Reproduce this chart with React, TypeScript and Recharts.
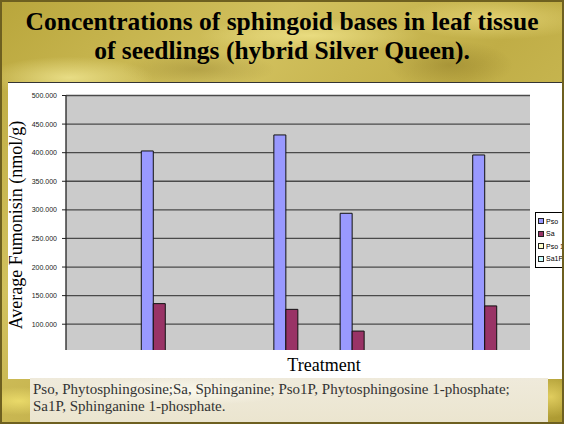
import React from 'react';
import { BarChart, Bar, XAxis, YAxis, CartesianGrid, Legend } from 'recharts';

// treatment slots along the x axis (empty slots carry no visible bars)
const treatments = ['T1', 'T2', 'T3', 'T4', 'T5', 'T6', 'T7'];
const pso = [null, 403, null, 431, 294, null, 396];
const sa = [null, 136, null, 126, 88, null, 132];
const pso1p = [null, null, null, null, null, null, null];
const sa1p = [null, null, null, null, null, null, null];
const yTicks = [50, 100, 150, 200, 250, 300, 350, 400, 450, 500];

const series = [
  { key: 'Pso', color: '#9999ff' },
  { key: 'Sa', color: '#993366' },
  { key: 'Pso 1P', color: '#ffffcc' },
  { key: 'Sa1P', color: '#ccffff' },
];

const data = treatments.map((t, i) => ({
  name: t,
  Pso: pso[i],
  Sa: sa[i],
  'Pso 1P': pso1p[i],
  Sa1P: sa1p[i],
}));

const serif = '"Liberation Serif", "Times New Roman", serif';
const sans = '"Liberation Sans", Arial, sans-serif';

const gold =
  'radial-gradient(ellipse 120px 30px at 12% 18%, rgba(255,248,170,0.6), transparent 70%),' +
  'radial-gradient(ellipse 160px 25px at 55% 8%, rgba(255,245,160,0.55), transparent 70%),' +
  'radial-gradient(ellipse 90px 35px at 80% 15%, rgba(120,100,25,0.35), transparent 70%),' +
  'radial-gradient(ellipse 110px 25px at 35% 16%, rgba(120,100,25,0.3), transparent 70%),' +
  'radial-gradient(ellipse 140px 30px at 88% 4%, rgba(255,240,150,0.5), transparent 70%),' +
  'radial-gradient(ellipse 60px 20px at 3% 95%, rgba(255,240,120,0.6), transparent 70%),' +
  'radial-gradient(ellipse 40px 30px at 98% 94%, rgba(255,235,120,0.6), transparent 70%),' +
  'radial-gradient(ellipse 60px 20px at 50% 100%, rgba(230,210,100,0.6), transparent 70%),' +
  'linear-gradient(135deg, #b9a63c 0%, #d2c15e 30%, #c0ad46 55%, #cbbb56 75%, #ad9a32 100%)';

const LegendBox = () => (
  <div
    style={{
      border: '1px solid #000',
      background: '#fff',
      padding: '2px 0 2px 2px',
      width: 40,
      boxSizing: 'border-box',
    }}
  >
    {series.map((s) => (
      <div
        key={s.key}
        style={{
          display: 'flex',
          alignItems: 'center',
          height: 12.5,
          fontFamily: sans,
          fontSize: 7,
          color: '#000',
          whiteSpace: 'nowrap',
        }}
      >
        <span
          style={{
            display: 'inline-block',
            width: 4,
            height: 4,
            background: s.color,
            border: '1px solid #222',
            marginRight: 2,
          }}
        />
        {s.key}
      </div>
    ))}
  </div>
);

export default function App() {
  return (
    <div
      style={{
        position: 'absolute',
        left: 0,
        top: 0,
        width: 564,
        height: 424,
        overflow: 'hidden',
        background: gold,
        boxSizing: 'border-box',
        border: '2px solid #6e6020',
      }}
    >
      <div
        style={{
          position: 'absolute',
          left: 0,
          top: 5,
          width: 560,
          textAlign: 'center',
          fontFamily: serif,
          fontWeight: 'bold',
          fontSize: 25.5,
          lineHeight: '29px',
          color: '#000',
        }}
      >
        Concentrations of sphingoid bases in leaf tissue
        <br />
        of seedlings (hybrid Silver Queen).
      </div>

      {/* white chart panel */}
      <div
        style={{
          position: 'absolute',
          left: 6,
          top: 80,
          width: 554,
          height: 296,
          background: '#fff',
          borderTop: '1.5px solid #333',
          borderRight: '1.5px solid #555',
        }}
      />

      <div
        style={{
          position: 'absolute',
          left: 6,
          top: 80,
          width: 558,
          height: 268,
          overflow: 'hidden',
        }}
      >
        <BarChart
          width={558}
          height={280}
          data={data}
          margin={{ top: 13.5, right: 36, bottom: 9.2, left: 2 }}
          barSize={12}
          barGap={0}
        >
          <CartesianGrid
            yAxisId="left"
            vertical={false}
            stroke="#4a4a4a"
            strokeWidth={1.3}
            fill="#cbcbcb"
            fillOpacity={1}
          />
          <XAxis dataKey="name" hide />
          <YAxis
            yAxisId="left"
            width={56}
            domain={[50, 500]}
            ticks={yTicks}
            allowDataOverflow
            interval={0}
            tickSize={4}
            tickMargin={5}
            tickFormatter={(v: number) => `${v}.000`}
            tick={{ fontSize: 7, fontFamily: sans, fill: '#222' }}
            axisLine={{ stroke: '#222', strokeWidth: 1.3 }}
            tickLine={{ stroke: '#222' }}
          />
          <YAxis
            yAxisId="right"
            orientation="right"
            width={0}
            tick={false}
            tickLine={false}
            axisLine={{ stroke: '#8a8a8a', strokeWidth: 1.5 }}
          />
          <Legend
            layout="vertical"
            align="center"
            verticalAlign="middle"
            wrapperStyle={{ position: 'absolute', left: 527, top: 130, width: 40 }}
            content={LegendBox}
          />
          {series.map((s) => (
            <Bar
              key={s.key}
              yAxisId="left"
              dataKey={s.key}
              fill={s.color}
              stroke="#111"
              strokeWidth={1}
              isAnimationActive={false}
            />
          ))}
        </BarChart>
      </div>

      <div style={{ position: 'absolute', left: 14, top: 223, width: 0, height: 0 }}>
        <div
          style={{
            position: 'absolute',
            left: 0,
            top: 0,
            transform: 'translate(-50%, -50%) rotate(-90deg)',
            fontFamily: serif,
            fontSize: 18,
            lineHeight: '20px',
            whiteSpace: 'nowrap',
            color: '#000',
          }}
        >
          Average Fumonisin (nmol/g)
        </div>
      </div>

      <div
        style={{
          position: 'absolute',
          left: 222,
          top: 353,
          width: 200,
          textAlign: 'center',
          fontFamily: serif,
          fontSize: 18,
          color: '#000',
        }}
      >
        Treatment
      </div>

      {/* footnote */}
      <div
        style={{
          position: 'absolute',
          left: 28,
          top: 376,
          width: 518,
          height: 44,
          boxSizing: 'border-box',
          padding: '3px 0 0 3px',
          background:
            'radial-gradient(ellipse 160px 20px at 30% 30%, rgba(255,255,245,0.7), transparent 70%), linear-gradient(180deg, #efeadb, #ebe5cf)',
          fontFamily: serif,
          fontSize: 15,
          lineHeight: '17px',
          color: '#333',
          whiteSpace: 'nowrap',
        }}
      >
        Pso, Phytosphingosine;Sa, Sphinganine; Pso1P, Phytosphingosine 1-phosphate;
        <br />
        Sa1P, Sphinganine 1-phosphate.
      </div>
    </div>
  );
}
